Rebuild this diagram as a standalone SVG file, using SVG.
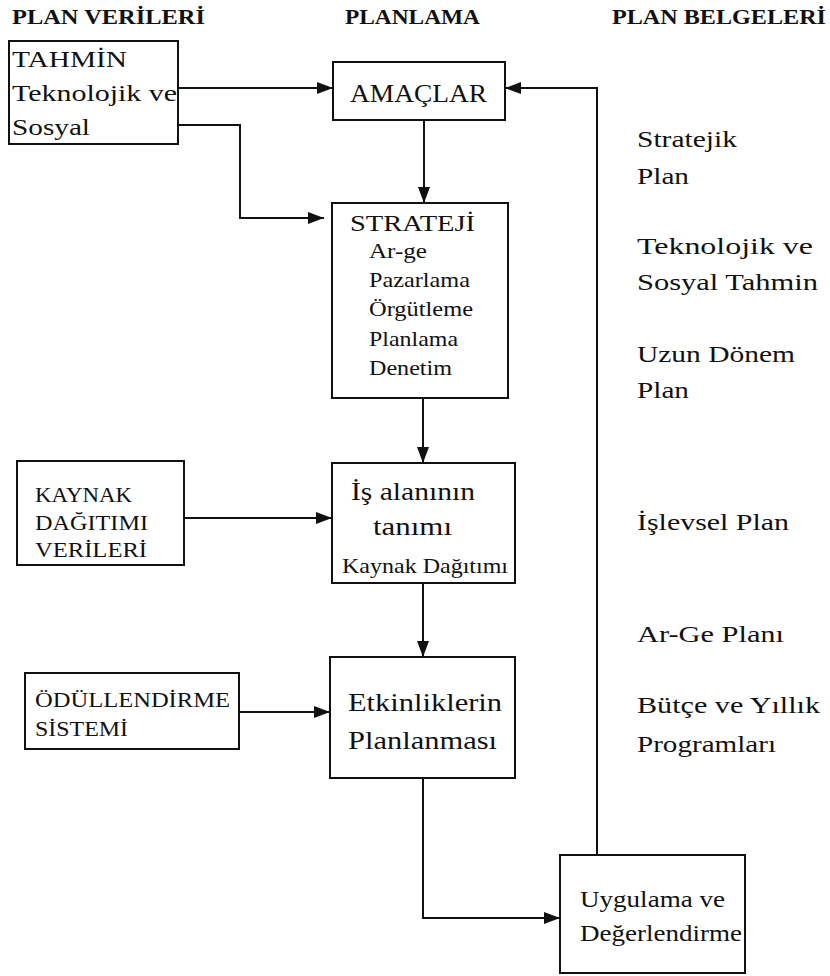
<svg xmlns="http://www.w3.org/2000/svg" width="830" height="976" viewBox="0 0 830 976">
<defs>
<style>
text{font-family:"Liberation Serif","Times New Roman",serif;fill:#111;}
.h{font-weight:bold;font-size:22px;}
.t{font-size:24px;}
.s{font-size:22px;}
.b{font-size:26px;}
.box{fill:#fff;stroke:#111;stroke-width:2;}
.ln{fill:none;stroke:#111;stroke-width:2;}
</style>
<marker id="ah" viewBox="0 0 16 12" refX="16" refY="6" markerWidth="16" markerHeight="12" markerUnits="userSpaceOnUse" orient="auto">
<path d="M0,0 L16,6 L0,12 Z" fill="#111"/>
</marker>
</defs>
<rect width="830" height="976" fill="#fff"/>

<g id="headers">
<text class="h" x="12" y="24" textLength="193" lengthAdjust="spacingAndGlyphs">PLAN VERİLERİ</text>
<text class="h" x="345" y="24" textLength="135" lengthAdjust="spacingAndGlyphs">PLANLAMA</text>
<text class="h" x="612" y="24" textLength="214" lengthAdjust="spacingAndGlyphs">PLAN BELGELERİ</text>
</g>

<g id="tahmin">
<rect class="box" x="9" y="41" width="169" height="103"/>
<text class="t" x="12" y="67" textLength="115" lengthAdjust="spacingAndGlyphs">TAHMİN</text>
<text class="t" x="12" y="101" textLength="165" lengthAdjust="spacingAndGlyphs">Teknolojik ve</text>
<text class="t" x="12" y="135" textLength="78" lengthAdjust="spacingAndGlyphs">Sosyal</text>
</g>

<g id="amaclar">
<rect class="box" x="333" y="62" width="172" height="58"/>
<text class="b" x="350" y="102" textLength="137" lengthAdjust="spacingAndGlyphs">AMAÇLAR</text>
</g>

<g id="strateji">
<rect class="box" x="332" y="203" width="176" height="195"/>
<text class="t" x="350" y="231" textLength="125" lengthAdjust="spacingAndGlyphs">STRATEJİ</text>
<text class="s" x="369" y="258" textLength="58" lengthAdjust="spacingAndGlyphs">Ar-ge</text>
<text class="s" x="369" y="287" textLength="101" lengthAdjust="spacingAndGlyphs">Pazarlama</text>
<text class="s" x="369" y="316" textLength="104" lengthAdjust="spacingAndGlyphs">Örgütleme</text>
<text class="s" x="369" y="346" textLength="89" lengthAdjust="spacingAndGlyphs">Planlama</text>
<text class="s" x="369" y="375" textLength="83" lengthAdjust="spacingAndGlyphs">Denetim</text>
</g>

<g id="kaynak">
<rect class="box" x="17" y="461" width="167" height="104"/>
<text class="s" x="35" y="502" textLength="97" lengthAdjust="spacingAndGlyphs">KAYNAK</text>
<text class="s" x="35" y="530" textLength="113" lengthAdjust="spacingAndGlyphs">DAĞITIMI</text>
<text class="s" x="35" y="557" textLength="112" lengthAdjust="spacingAndGlyphs">VERİLERİ</text>
</g>

<g id="isalani">
<rect class="box" x="332" y="463" width="183" height="120"/>
<text class="b" x="351" y="500" textLength="124" lengthAdjust="spacingAndGlyphs">İş alanının</text>
<text class="b" x="373" y="535" textLength="79" lengthAdjust="spacingAndGlyphs">tanımı</text>
<text class="s" x="342" y="573" textLength="166" lengthAdjust="spacingAndGlyphs">Kaynak Dağıtımı</text>
</g>

<g id="odul">
<rect class="box" x="25" y="673" width="214" height="76"/>
<text class="s" x="35" y="707" textLength="195" lengthAdjust="spacingAndGlyphs">ÖDÜLLENDİRME</text>
<text class="s" x="35" y="736" textLength="93" lengthAdjust="spacingAndGlyphs">SİSTEMİ</text>
</g>

<g id="etkinlik">
<rect class="box" x="330" y="657" width="185" height="121"/>
<text class="b" x="348" y="711" textLength="154" lengthAdjust="spacingAndGlyphs">Etkinliklerin</text>
<text class="b" x="348" y="749" textLength="149" lengthAdjust="spacingAndGlyphs">Planlanması</text>
</g>

<g id="uygulama">
<rect class="box" x="560" y="855" width="185" height="118"/>
<text class="t" x="580" y="907" textLength="145" lengthAdjust="spacingAndGlyphs">Uygulama ve</text>
<text class="t" x="580" y="941" textLength="162" lengthAdjust="spacingAndGlyphs">Değerlendirme</text>
</g>

<g id="belgeler">
<text class="t" x="637" y="147" textLength="100" lengthAdjust="spacingAndGlyphs">Stratejik</text>
<text class="t" x="637" y="184" textLength="52" lengthAdjust="spacingAndGlyphs">Plan</text>
<text class="t" x="637" y="254" textLength="176" lengthAdjust="spacingAndGlyphs">Teknolojik ve</text>
<text class="t" x="637" y="290" textLength="181" lengthAdjust="spacingAndGlyphs">Sosyal Tahmin</text>
<text class="t" x="637" y="362" textLength="158" lengthAdjust="spacingAndGlyphs">Uzun Dönem</text>
<text class="t" x="637" y="398" textLength="52" lengthAdjust="spacingAndGlyphs">Plan</text>
<text class="t" x="637" y="530" textLength="152" lengthAdjust="spacingAndGlyphs">İşlevsel Plan</text>
<text class="t" x="637" y="642" textLength="147" lengthAdjust="spacingAndGlyphs">Ar-Ge Planı</text>
<text class="t" x="637" y="713" textLength="183" lengthAdjust="spacingAndGlyphs">Bütçe ve Yıllık</text>
<text class="t" x="637" y="752" textLength="139" lengthAdjust="spacingAndGlyphs">Programları</text>
</g>

<g id="connectors">
<path class="ln" d="M178,88 H333" marker-end="url(#ah)"/>
<path class="ln" d="M178,125 H240 V218 H324" marker-end="url(#ah)"/>
<path class="ln" d="M424,120 V203" marker-end="url(#ah)"/>
<path class="ln" d="M423,398 V463" marker-end="url(#ah)"/>
<path class="ln" d="M184,518 H332" marker-end="url(#ah)"/>
<path class="ln" d="M423,583 V657" marker-end="url(#ah)"/>
<path class="ln" d="M239,712 H330" marker-end="url(#ah)"/>
<path class="ln" d="M423,778 V918 H560" marker-end="url(#ah)"/>
<path class="ln" d="M597,855 V88 H505" marker-end="url(#ah)"/>
</g>
</svg>
